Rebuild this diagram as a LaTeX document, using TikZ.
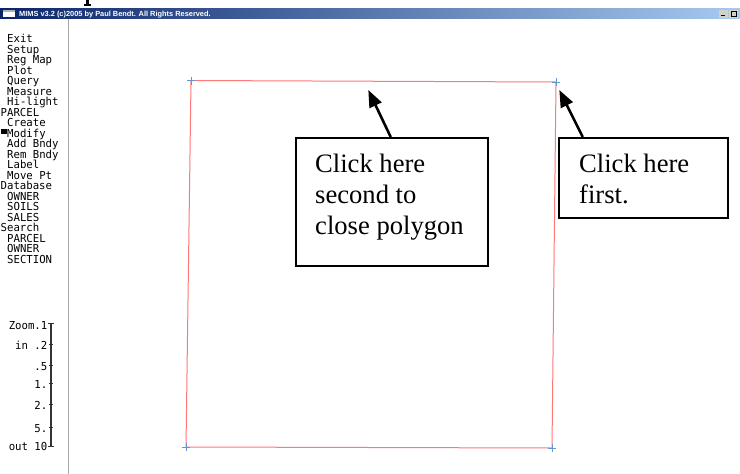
\documentclass[tikz,border=0pt]{standalone}
\usepackage{fontspec}
\usetikzlibrary{arrows.meta}
\setmainfont{Liberation Serif}
\newfontfamily\menufont[FakeStretch=0.97]{DejaVu Sans Mono}
\newfontfamily\titlefont{Liberation Sans}
\definecolor{polyred}{RGB}{255,120,120}
\definecolor{crossblue}{RGB}{100,150,210}
\definecolor{bardark}{RGB}{10,36,106}
\definecolor{barlight}{RGB}{166,202,240}
\definecolor{btngrey}{RGB}{212,208,200}
\begin{document}
\begin{tikzpicture}[x=1pt,y=-1pt,
  menu/.style={anchor=base west,inner sep=0pt,font=\menufont\fontsize{11}{12}\selectfont},
  zlab/.style={anchor=base east,inner sep=0pt,font=\menufont\fontsize{11}{12}\selectfont},
  callbox/.style={draw=black,line width=2.2pt,fill=white,anchor=north west,inner sep=0pt},
  calltext/.style={anchor=north west,inner sep=0pt,align=left,font=\fontsize{26.6}{31}\selectfont},
  arr/.style={line width=2.6pt,-{Triangle[length=17pt,width=13pt]}},
  poly/.style={draw=polyred,line width=1pt},
  cross/.style={draw=crossblue,line width=1pt}]
\useasboundingbox (0,0) rectangle (740,474);
\fill[white] (0,0) rectangle (740,474);
% fragment at top
\fill[black] (86,0) rectangle (88.5,4.5);
\fill[black] (84,4) rectangle (90.5,5.5);
% title bar
\shade[left color=bardark,right color=barlight] (0,8.5) rectangle (740,18.5);
\fill[white] (3,10) rectangle (15,17);
\fill[gray!60] (3,10) rectangle (15,11.5);
\node[anchor=base west,inner sep=0pt,text=white,font=\titlefont\bfseries\fontsize{7.4}{8}\selectfont] (title) at (19,16.3) {MIMS v3.2 (c)2005 by Paul Bendt. All Rights Reserved.};
\fill[btngrey] (719,10) rectangle (728,17.5);
\fill[btngrey] (729,10) rectangle (738,17.5);
\draw[black,line width=0.8pt] (721,15.5) -- (725,15.5);
\draw[black,line width=0.6pt] (731,11.5) rectangle (736,16);
% separator
\draw[gray!70,line width=1pt] (68.5,18.5) -- (68.5,474);
% menu
\node[menu] (m1) at (7,42.5) {Exit};
\node[menu] (m2) at (7,53) {Setup};
\node[menu] (m3) at (7,63.5) {Reg Map};
\node[menu] (m4) at (7,74) {Plot};
\node[menu] (m5) at (7,84.5) {Query};
\node[menu] (m6) at (7,95) {Measure};
\node[menu] (m7) at (7,105.5) {Hi-light};
\node[menu] (m8) at (0.5,116) {PARCEL};
\node[menu] (m9) at (7,126.5) {Create};
\node[menu] (m10) at (7,137) {Modify};
\fill[black] (1,128.5) rectangle (6.5,134);
\node[menu] (m11) at (7,147.5) {Add Bndy};
\node[menu] (m12) at (7,158) {Rem Bndy};
\node[menu] (m13) at (7,168.5) {Label};
\node[menu] (m14) at (7,179) {Move Pt};
\node[menu] (m15) at (0.5,189.5) {Database};
\node[menu] (m16) at (7,200) {OWNER};
\node[menu] (m17) at (7,210.5) {SOILS};
\node[menu] (m18) at (7,221) {SALES};
\node[menu] (m19) at (0.5,231.5) {Search};
\node[menu] (m20) at (7,242) {PARCEL};
\node[menu] (m21) at (7,252.5) {OWNER};
\node[menu] (m22) at (7,263) {SECTION};
% zoom scale
\coordinate (ztop) at (51,323);
\coordinate (zbot) at (51,446);
\draw[black!80,line width=1.1pt] (ztop) -- (zbot);
\draw[black!80,line width=1pt] (48,323) -- (54,323);
\draw[black!80,line width=1pt] (48,446) -- (54,446);
\foreach \yy in {344,365,383,404,427} \draw[black!80,line width=1pt] (49,\yy) -- (53,\yy);
\node[zlab] (z1) at (47.5,329.5) {Zoom.1};
\node[zlab] (z2) at (47.5,349.5) {in .2};
\node[zlab] (z3) at (47.5,370.5) {.5};
\node[zlab] (z4) at (47.5,388.5) {1.};
\node[zlab] (z5) at (47.5,409.5) {2.};
\node[zlab] (z6) at (47.5,432.5) {5.};
\node[zlab] (z7) at (47.5,450.5) {out 10};
% polygon
\coordinate (c1) at (191,80.5);
\coordinate (c2) at (556,82);
\coordinate (c3) at (552,448);
\coordinate (c4) at (186,447);
\draw[poly] (c1) -- (c2) -- (c3) -- (c4) -- cycle;
\foreach \c in {c1,c2,c3,c4} {
  \draw[cross] ([xshift=-4pt]\c) -- ([xshift=4pt]\c);
  \draw[cross] ([yshift=-4pt]\c) -- ([yshift=4pt]\c);
}
% callouts
\node[callbox,minimum width=192pt,minimum height=128pt] (b1) at (295,137) {};
\node[calltext] (t1) at (315,154) {Click here\\second to\\close polygon};
\node[callbox,minimum width=169pt,minimum height=80pt] (b2) at (558,137) {};
\node[calltext] (t2) at (579,154) {Click here\\first.};
\coordinate (s1) at (390.7,137);
\coordinate (tip1) at (368.3,90);
\coordinate (s2) at (582.7,137);
\coordinate (tip2) at (559.3,90);
\draw[arr] (s1) -- (tip1);
\draw[arr] (s2) -- (tip2);
\end{tikzpicture}
\end{document}
